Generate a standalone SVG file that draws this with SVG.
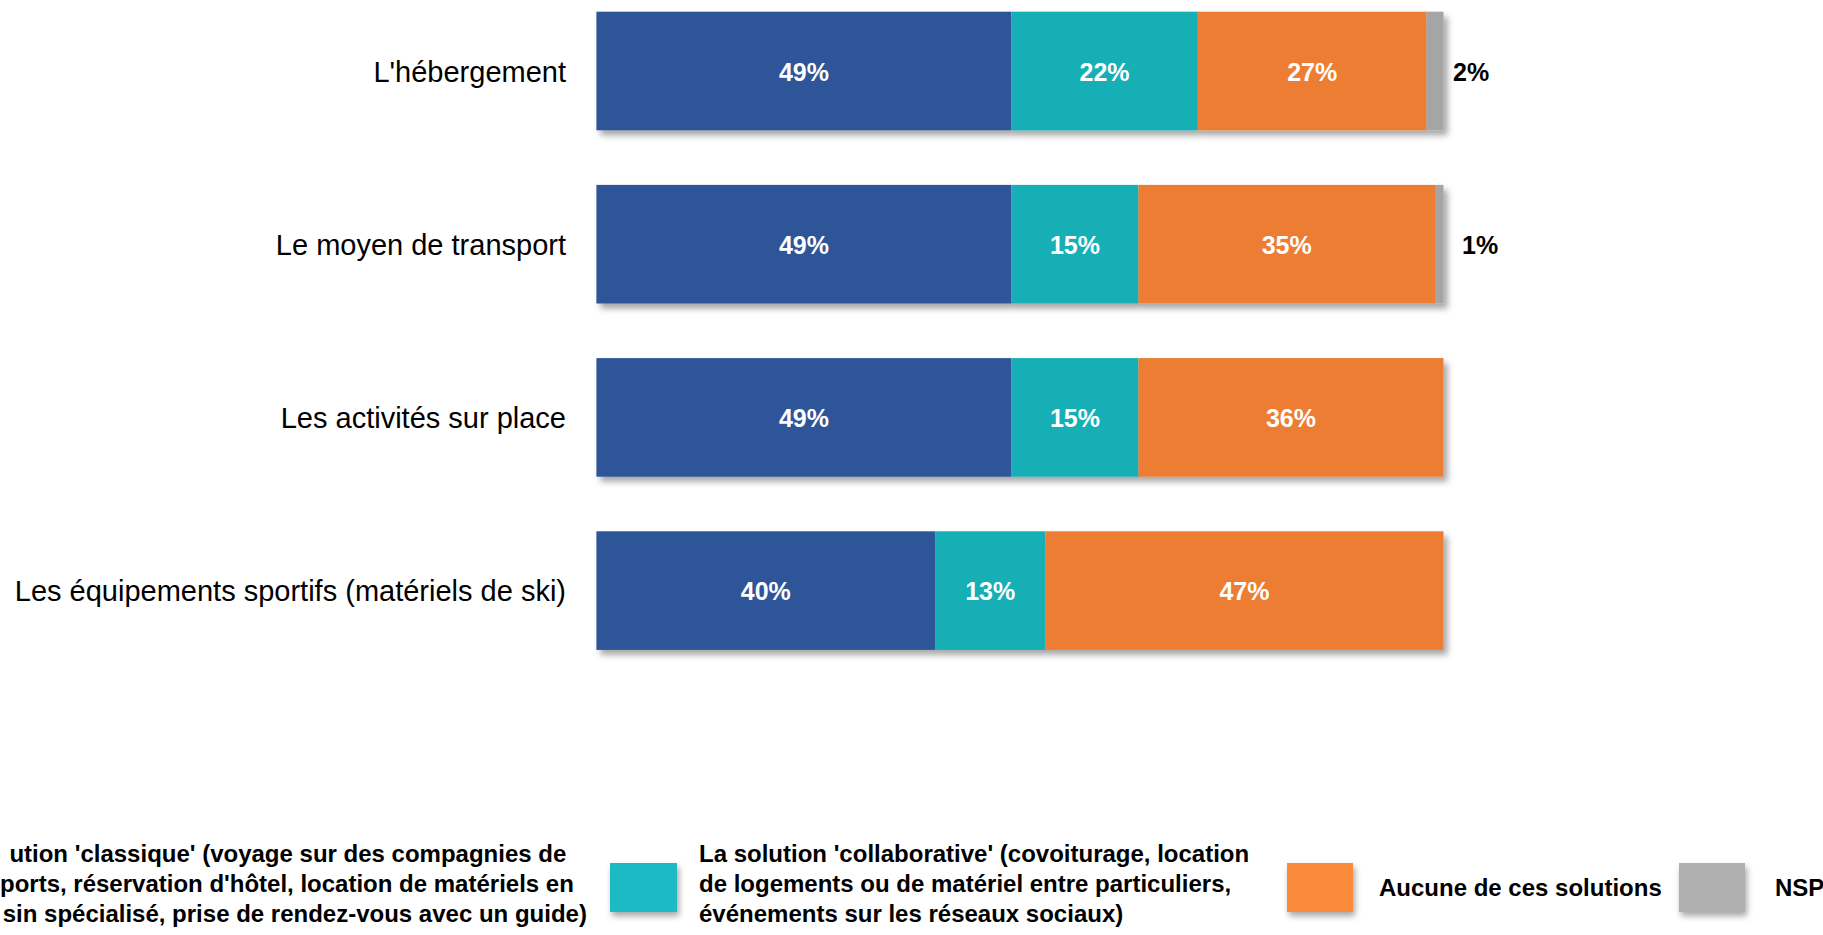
<svg xmlns="http://www.w3.org/2000/svg" width="1823" height="935" viewBox="0 0 1823 935">
  <defs>
    <filter id="shadow" x="-5%" y="-10%" width="115%" height="130%">
      <feDropShadow dx="4" dy="5" stdDeviation="3" flood-color="#000" flood-opacity="0.35"/>
    </filter>
    <filter id="lshadow" x="-20%" y="-20%" width="150%" height="150%">
      <feDropShadow dx="2" dy="4" stdDeviation="3" flood-color="#000" flood-opacity="0.35"/>
    </filter>
  </defs>
  <style>
    .cat { font-family: "Liberation Sans", Arial, sans-serif; font-size: 29px; fill: #000; text-anchor: end; }
    .val { font-family: "Liberation Sans", Arial, sans-serif; font-size: 25px; font-weight: bold; fill: #fff; text-anchor: middle; }
    .out { font-family: "Liberation Sans", Arial, sans-serif; font-size: 25px; font-weight: bold; fill: #000; }
    .leg { font-family: "Liberation Sans", Arial, sans-serif; font-size: 24px; font-weight: bold; fill: #000; }
    .blue { fill: #2F5597; }
    .teal { fill: #13AFB6; }
    .orange { fill: #ED7D31; }
    .gray { fill: #A5A5A5; }
  </style>
  <rect width="1823" height="935" fill="#fff"/>

  <g id="row-hebergement">
    <text class="cat" x="566" y="81.5">L'hébergement</text>
    <g filter="url(#shadow)">
      <rect class="blue" x="596.4" y="11.7" width="415" height="118.6"/>
      <rect class="teal" x="1011.4" y="11.7" width="186.4" height="118.6"/>
      <rect class="orange" x="1197.8" y="11.7" width="228.7" height="118.6"/>
      <rect class="gray" x="1426.5" y="11.7" width="17" height="118.6"/>
    </g>
    <text class="val" x="803.9" y="80.5">49%</text>
    <text class="val" x="1104.6" y="80.5">22%</text>
    <text class="val" x="1312.2" y="80.5">27%</text>
    <text class="out" x="1453" y="80.5">2%</text>
  </g>

  <g id="row-transport">
    <text class="cat" x="566" y="254.7">Le moyen de transport</text>
    <g filter="url(#shadow)">
      <rect class="blue" x="596.4" y="184.9" width="415" height="118.6"/>
      <rect class="teal" x="1011.4" y="184.9" width="127.1" height="118.6"/>
      <rect class="orange" x="1138.5" y="184.9" width="296.5" height="118.6"/>
      <rect class="gray" x="1435" y="184.9" width="8.5" height="118.6"/>
    </g>
    <text class="val" x="803.9" y="253.7">49%</text>
    <text class="val" x="1075" y="253.7">15%</text>
    <text class="val" x="1286.7" y="253.7">35%</text>
    <text class="out" x="1462" y="253.7">1%</text>
  </g>

  <g id="row-activites">
    <text class="cat" x="566" y="427.9">Les activités sur place</text>
    <g filter="url(#shadow)">
      <rect class="blue" x="596.4" y="358.1" width="415" height="118.6"/>
      <rect class="teal" x="1011.4" y="358.1" width="127.1" height="118.6"/>
      <rect class="orange" x="1138.5" y="358.1" width="305" height="118.6"/>
    </g>
    <text class="val" x="803.9" y="426.9">49%</text>
    <text class="val" x="1075" y="426.9">15%</text>
    <text class="val" x="1291" y="426.9">36%</text>
  </g>

  <g id="row-equipements">
    <text class="cat" x="566" y="601.1">Les équipements sportifs (matériels de ski)</text>
    <g filter="url(#shadow)">
      <rect class="blue" x="596.4" y="531.3" width="338.8" height="118.6"/>
      <rect class="teal" x="935.2" y="531.3" width="110.1" height="118.6"/>
      <rect class="orange" x="1045.3" y="531.3" width="398.2" height="118.6"/>
    </g>
    <text class="val" x="765.8" y="600.1">40%</text>
    <text class="val" x="990.2" y="600.1">13%</text>
    <text class="val" x="1244.4" y="600.1">47%</text>
  </g>

  <g id="legend-classique">
    <text class="leg" x="9.4" y="862">ution 'classique' (voyage sur des compagnies de</text>
    <text class="leg" x="0" y="892">ports, réservation d'hôtel, location de matériels en</text>
    <text class="leg" x="2.7" y="922">sin spécialisé, prise de rendez-vous avec un guide)</text>
  </g>

  <g id="legend-collaborative">
    <rect x="610" y="863" width="67" height="49" fill="#1ABAC4" filter="url(#lshadow)"/>
    <text class="leg" x="699" y="862">La solution 'collaborative' (covoiturage, location</text>
    <text class="leg" x="699" y="892">de logements ou de matériel entre particuliers,</text>
    <text class="leg" x="699" y="922">événements sur les réseaux sociaux)</text>
  </g>

  <g id="legend-aucune">
    <rect x="1287" y="863" width="66" height="49" fill="#FC8A3B" filter="url(#lshadow)"/>
    <text class="leg" x="1379" y="896">Aucune de ces solutions</text>
  </g>

  <g id="legend-nsp">
    <rect x="1679" y="863" width="66" height="49" fill="#B0B0B0" filter="url(#lshadow)"/>
    <text class="leg" x="1775" y="896">NSP</text>
  </g>

  <g id="connectors"></g>
</svg>
